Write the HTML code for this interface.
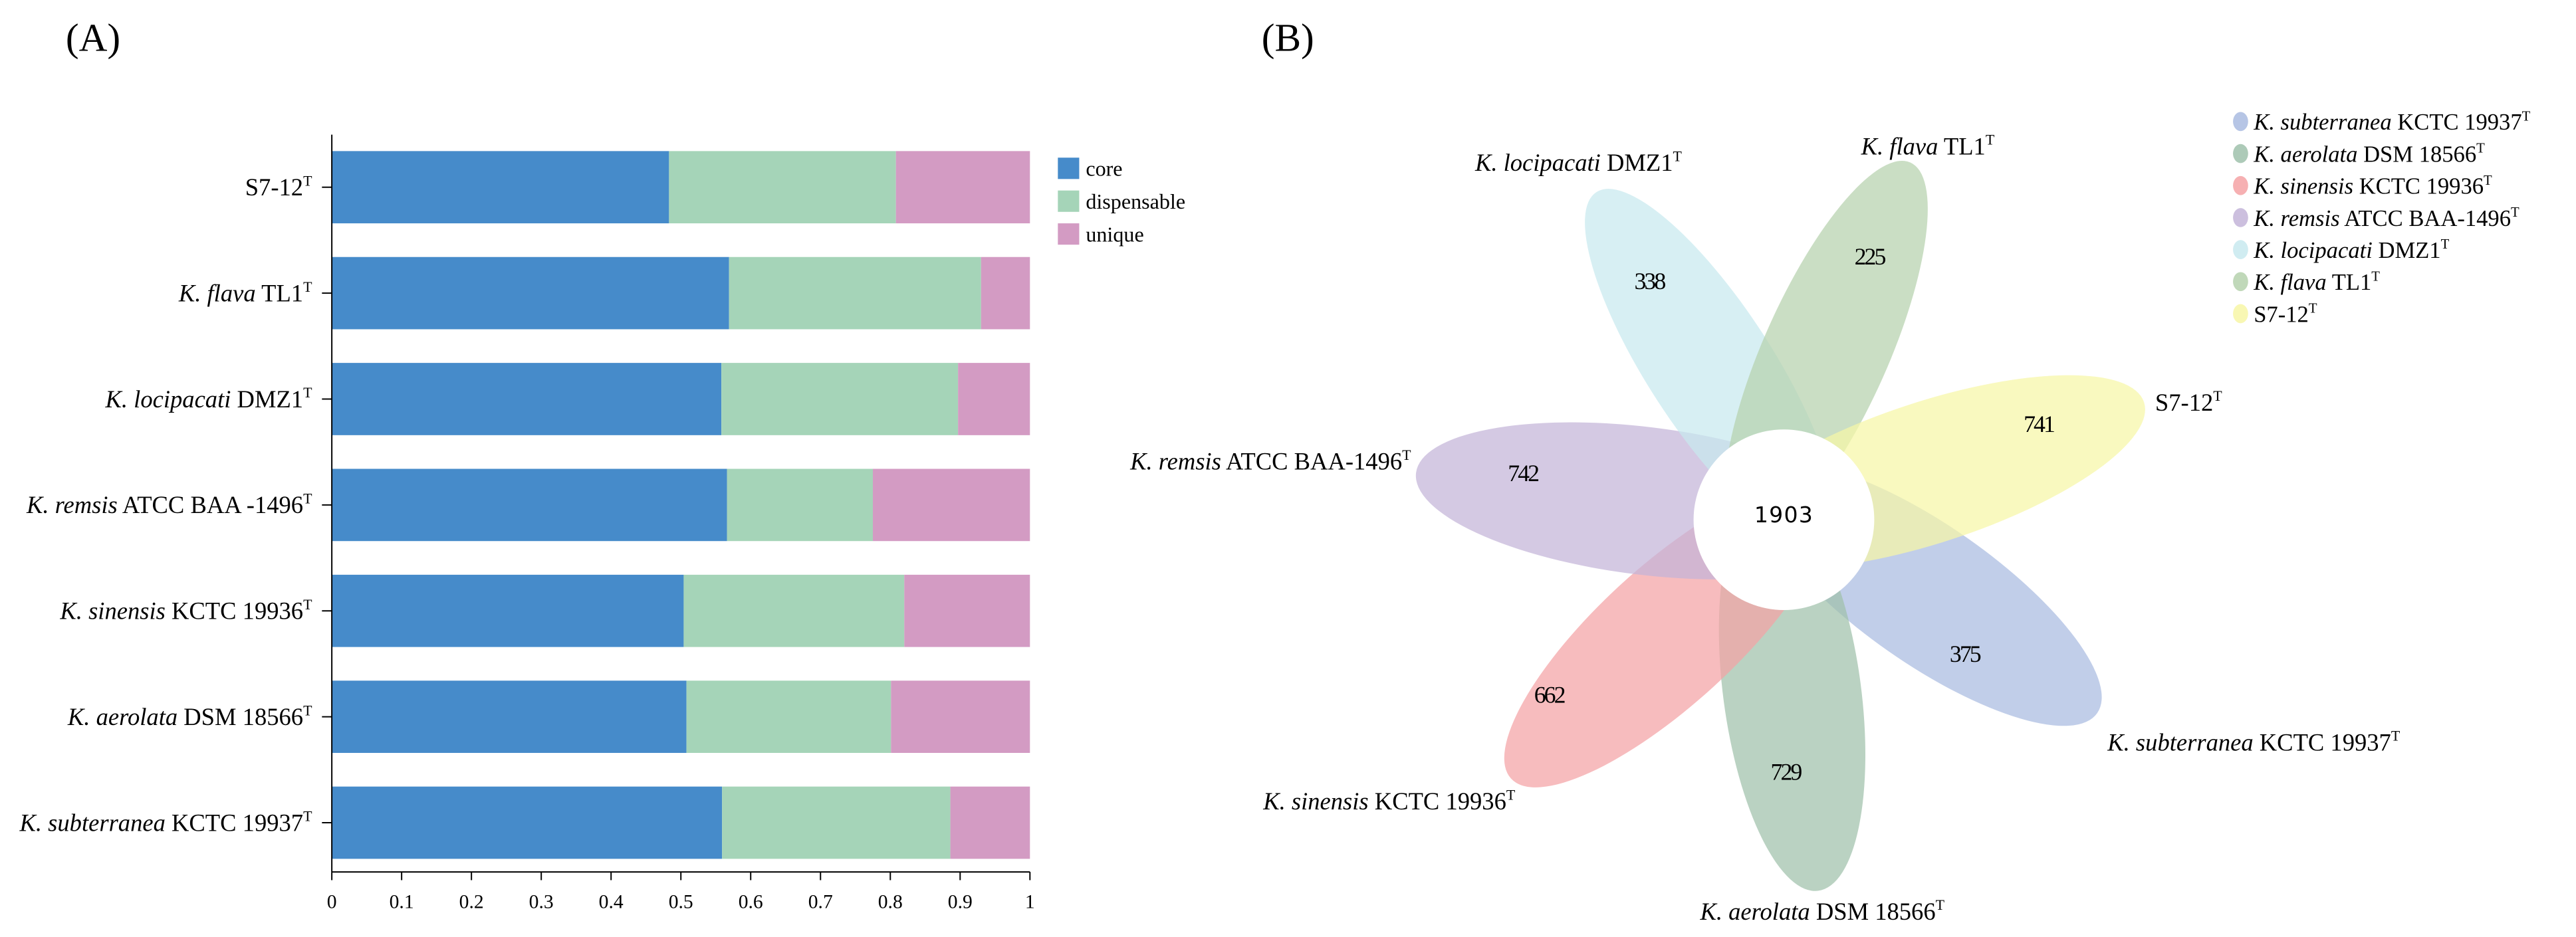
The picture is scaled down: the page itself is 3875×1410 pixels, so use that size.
<!DOCTYPE html>
<html><head><meta charset="utf-8"><style>
html,body{margin:0;padding:0;background:#fff;}
svg{display:block;font-family:"Liberation Serif",serif;}
</style></head><body>
<svg id="fig" width="3875" height="1410" viewBox="0 0 1568.2 570.6" xmlns="http://www.w3.org/2000/svg">
<text x="40" y="31" font-size="24">(A)</text>
<text x="768" y="31" font-size="24">(B)</text>
<g id="barChart"></g>
<g id="venn"></g>
</svg>
<script>
const NS='http://www.w3.org/2000/svg';
const categories=[["","S7-12"],["K. flava"," TL1"],["K. locipacati"," DMZ1"],["K. remsis"," ATCC BAA -1496"],["K. sinensis"," KCTC 19936"],["K. aerolata"," DSM 18566"],["K. subterranea"," KCTC  19937"]];
const coreVals=[0.483,0.569,0.558,0.566,0.504,0.508,0.559];
const dispVals=[0.325,0.361,0.339,0.209,0.316,0.293,0.327];
const uniqueVals=[0.192,0.070,0.103,0.225,0.180,0.199,0.114];
const xTicks=["0","0.1","0.2","0.3","0.4","0.5","0.6","0.7","0.8","0.9","1"];
const seriesNames=["core","dispensable","unique"];
const seriesColors=["#468bca","#a5d4b8","#d39bc3"];

const vennNames=[["K. subterranea"," KCTC 19937"],["K. aerolata"," DSM 18566"],["K. sinensis"," KCTC 19936"],["K. remsis"," ATCC BAA-1496"],["K. locipacati"," DMZ1"],["K. flava"," TL1"],["","S7-12"]];
const vennUnique=[375,729,662,742,338,225,741];
const vennCore=1903;

function el(tag,attrs,parent){const e=document.createElementNS(NS,tag);for(const k in attrs)e.setAttribute(k,attrs[k]);parent.appendChild(e);return e;}
function label(parent,x,y,it,rest,size,anchor){
  const t=el('text',{x:x,y:y,'font-size':size,'text-anchor':anchor||'start'},parent);
  if(it){const a=el('tspan',{'font-style':'italic'},t);a.textContent=it;}
  const b=el('tspan',{},t);b.textContent=rest;
  const s=el('tspan',{'font-size':size*0.6,dy:-size*0.4},t);s.textContent='T';
  return t;
}
// bar chart
const bc=document.getElementById('barChart');
const X0=202,X1=627,TOP=92,PITCH=64.5,BH=44,AX=531;
const xs=v=>X0+v*(X1-X0);
const yb=i=>TOP+i*PITCH;
categories.forEach((c,i)=>{
  const vals=[coreVals[i],dispVals[i],uniqueVals[i]];let acc=0;
  vals.forEach((v,j)=>{
    const r=el('rect',{x:xs(acc),y:yb(i),width:xs(acc+v)-xs(acc),height:BH,fill:seriesColors[j]},bc);
    
    
    acc+=v;
  });
  el('line',{x1:196,x2:202,y1:yb(i)+BH/2,y2:yb(i)+BH/2,stroke:'#000','stroke-width':0.8},bc);
  const t=label(bc,190,yb(i)+BH/2+5,c[0],c[1],14.8,'end');
  
  
});
el('line',{x1:X0,x2:X0,y1:82,y2:AX,stroke:'#000','stroke-width':0.8},bc);
el('line',{x1:X0,x2:X1,y1:AX,y2:AX,stroke:'#000','stroke-width':0.8},bc);
xTicks.forEach((tk,i)=>{
  const x=xs(i/10);
  el('line',{x1:x,x2:x,y1:AX,y2:AX+5,stroke:'#000','stroke-width':0.8},bc);
  const t=el('text',{x:x,y:AX+22,'font-size':12,'text-anchor':'middle'},bc);t.textContent=tk;
  
  
});
seriesNames.forEach((n,j)=>{
  const y=96+j*20;
  const r=el('rect',{x:644,y:y,width:13,height:13,fill:seriesColors[j]},bc);
  
  
  const t=el('text',{x:661,y:y+11,'font-size':13},bc);t.textContent=n;
  
  
});
// venn
const vg=document.getElementById('venn');
const petalColors=["#a9bbe0","#9fc1ab","#f4a2a5","#c3b4d8","#c8e9ef","#b5d1ad","#f7f6a6"];
const petals=[[1173.5,362,126,42,35],[1091,421.5,122,42,82.5],[1015,387,129,42,-42.5],[1001,305,140,45,7],[1041,223.5,127,38,57],[1111.5,214.5,126.5,38,114],[1175,287.5,137,43,-18.1]];
const numPos=[[1196,403],[1087,475],[943,428],[927,293],[1004,176],[1138,161],[1241,263]];
const labPos=[[1283,457,'start'],[1035,560,'start'],[769,493,'start'],[859,286,'end'],[898,104,'start'],[1133,94,'start'],[1312,250,'start']];
petals.forEach((p,i)=>{
  const e=el('ellipse',{cx:p[0],cy:p[1],rx:p[2],ry:p[3],fill:petalColors[i],'fill-opacity':0.72,transform:`rotate(${p[4]} ${p[0]} ${p[1]})`},vg);
  
  
});
const c=el('ellipse',{cx:1086,cy:316.5,rx:55,ry:55,fill:'#fff'},vg);


const ct=el('text',{x:1086,y:318,'font-size':13.4,'text-anchor':'middle','font-family':'DejaVu Sans, sans-serif','letter-spacing':'0.5'},vg);ct.textContent=vennCore;


vennUnique.forEach((v,i)=>{
  const t=el('text',{x:numPos[i][0],y:numPos[i][1],'font-size':14.5,'text-anchor':'middle','letter-spacing':'-1.2'},vg);t.textContent=v;
  
  
  const l=label(vg,labPos[i][0],labPos[i][1],vennNames[i][0],vennNames[i][1],14.8,labPos[i][2]);
  
  
  const y=74+i*19.5;
  const d=el('ellipse',{cx:1364,cy:y,rx:4.6,ry:5.8,fill:petalColors[i],'fill-opacity':0.85},vg);
  
  
  const lt=label(vg,1372,y+5,vennNames[i][0],vennNames[i][1],14,'start');
  
  
});
</script>
</body></html>
